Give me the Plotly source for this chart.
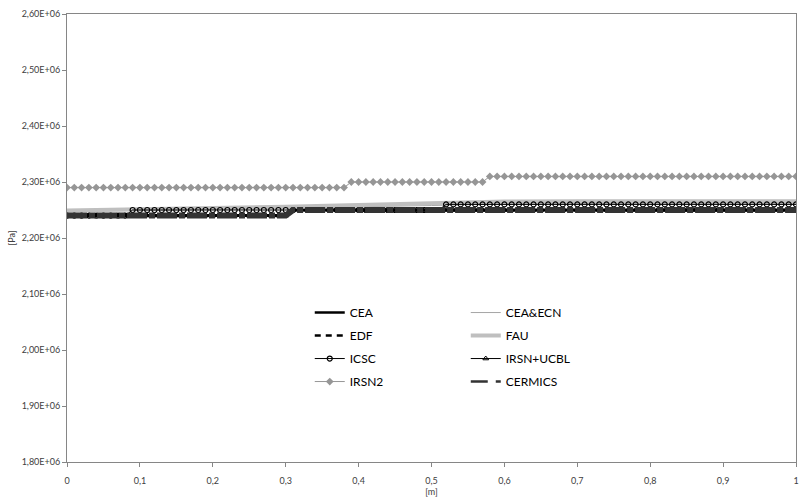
import numpy as np
import plotly.graph_objects as go

# Position along the domain [m], sampled every 0.01 m
x_grid = np.round(np.arange(0, 101) / 100, 2)

# Pressure profiles [Pa]
cea = [2.24e6] * 31 + [2.25e6] * 70
edf = [2.24e6] * 31 + [2.25e6] * 70
icsc = [2.24e6] * 9 + [2.25e6] * 43 + [2.26e6] * 49
irsn_ucbl = [2.24e6] * 31 + [2.25e6] * 70
irsn2 = [2.29e6] * 39 + [2.30e6] * 19 + [2.31e6] * 43
cermics = [2.24e6] * 31 + [2.25e6] * 70

# Smoothly varying profiles, given on a coarser grid
coarse_x = [0.0, 0.1, 0.2, 0.3, 0.4, 0.5, 0.6, 0.7, 0.8, 0.9, 1.0]
cea_ecn = [2.247e6, 2.249e6, 2.251e6, 2.253e6, 2.256e6, 2.258e6, 2.261e6, 2.262e6, 2.262e6, 2.262e6, 2.262e6]
fau = [2.249e6, 2.251e6, 2.254e6, 2.256e6, 2.259e6, 2.262e6, 2.265e6, 2.2655e6, 2.2655e6, 2.2655e6, 2.2655e6]

y_ticks = [1.8e6, 1.9e6, 2.0e6, 2.1e6, 2.2e6, 2.3e6, 2.4e6, 2.5e6, 2.6e6]
y_labels = ["1,80E+06", "1,90E+06", "2,00E+06", "2,10E+06", "2,20E+06",
            "2,30E+06", "2,40E+06", "2,50E+06", "2,60E+06"]
x_ticks = [0, 0.1, 0.2, 0.3, 0.4, 0.5, 0.6, 0.7, 0.8, 0.9, 1]
x_labels = ["0", "0,1", "0,2", "0,3", "0,4", "0,5", "0,6", "0,7", "0,8", "0,9", "1"]

FONT = "Lato, 'Open Sans', sans-serif"

# Series styles: (legend column, line in plot, line in legend, mode, marker)
styles = {
    "CEA": ("legend", dict(color="#000000", width=3), dict(color="#000000", width=2.5), "lines", None),
    "CEA&ECN": ("legend2", dict(color="#a6a6a6", width=1), dict(color="#a6a6a6", width=1), "lines", None),
    "EDF": ("legend", dict(color="#000000", width=2.5, dash="6px,5px"),
            dict(color="#000000", width=2.5, dash="6px,5px"), "lines", None),
    "FAU": ("legend2", dict(color="#bfbfbf", width=4), dict(color="#bfbfbf", width=4), "lines", None),
    "ICSC": ("legend", dict(color="#000000", width=1), dict(color="#000000", width=1), "lines+markers",
             dict(symbol="circle-open", size=5, color="#000000", line=dict(width=1.2))),
    "IRSN+UCBL": ("legend2", dict(color="#000000", width=1), dict(color="#000000", width=1), "lines+markers",
                  dict(symbol="triangle-up-open", size=5, color="#000000", line=dict(width=1))),
    "IRSN2": ("legend", dict(color="#969696", width=1), dict(color="#969696", width=1), "lines+markers",
              dict(symbol="diamond", size=6, color="#969696")),
    "CERMICS": ("legend2", dict(color="#333333", width=6, dash="20px,2px,6px,2px"),
                dict(color="#333333", width=2.5, dash="17px,8px,5px,8px"), "lines", None),
}

series = [
    ("CEA", x_grid, cea),
    ("CEA&ECN", coarse_x, cea_ecn),
    ("EDF", x_grid, edf),
    ("FAU", coarse_x, fau),
    ("ICSC", x_grid, icsc),
    ("IRSN+UCBL", x_grid, irsn_ucbl),
    ("IRSN2", x_grid, irsn2),
    ("CERMICS", x_grid, cermics),
]

fig = go.Figure()

for name, xs, ys in series:
    legend, line, _, mode, marker = styles[name]
    fig.add_trace(go.Scatter(
        x=xs, y=ys, name=name, mode=mode, line=line, marker=marker,
        showlegend=False, hoverinfo="skip",
    ))

# Legend entries (drawn with thinner keys than the plotted lines)
for name, _, _ in series:
    legend, _, key_line, mode, marker = styles[name]
    fig.add_trace(go.Scatter(
        x=[None], y=[None], name=name, mode=mode, line=key_line, marker=marker,
        legend=legend, legendgroup=name, showlegend=True, hoverinfo="skip",
    ))

legend_common = dict(
    bgcolor="rgba(0,0,0,0)", borderwidth=0,
    font=dict(family=FONT, size=12, color="#000000"),
    tracegroupgap=4, xanchor="left", yanchor="top",
)

fig.update_layout(
    width=801, height=502,
    margin=dict(l=67, r=2, t=14, b=40),
    paper_bgcolor="white", plot_bgcolor="white",
    font=dict(family=FONT, color="#404040"),
    showlegend=True,
    legend=dict(x=0.333, y=0.366, **legend_common),
    legend2=dict(x=0.547, y=0.366, **legend_common),
    xaxis=dict(
        range=[0, 1], tickvals=x_ticks, ticktext=x_labels,
        showgrid=False, zeroline=False,
        showline=True, linecolor="#868686", linewidth=1, mirror=True,
        ticks="outside", ticklen=4, tickcolor="#868686",
        ticklabelstandoff=6, ticklabeloverflow="allow",
        tickfont=dict(family=FONT, size=9, color="#404040"),
        title=dict(text="[m]", font=dict(family=FONT, size=9, color="#404040"), standoff=2),
    ),
    yaxis=dict(
        range=[1.8e6, 2.6e6], tickvals=y_ticks, ticktext=y_labels,
        showgrid=False, zeroline=False,
        showline=True, linecolor="#868686", linewidth=1, mirror=True,
        ticks="outside", ticklen=4, tickcolor="#868686",
        tickfont=dict(family=FONT, size=9, color="#404040"),
        title=dict(text="[Pa]", font=dict(family=FONT, size=9, color="#404040"), standoff=4),
    ),
)

fig.write_html("out.html")
